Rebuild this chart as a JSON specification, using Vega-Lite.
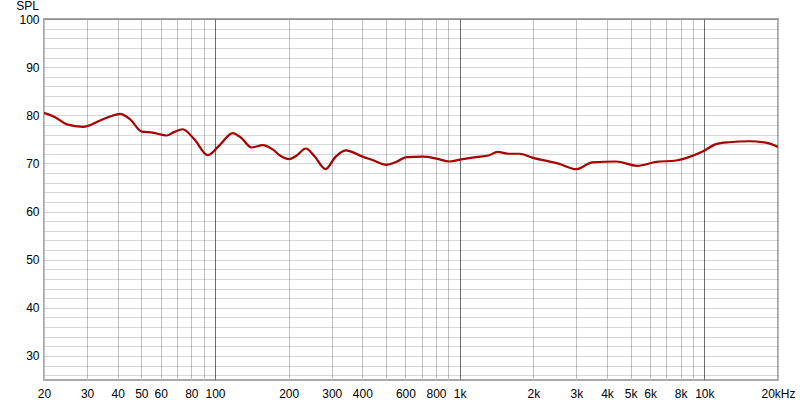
{
  "$schema": "https://vega.github.io/schema/vega-lite/v6.json",
  "width": 734,
  "height": 361,
  "autosize": "none",
  "padding": {"left": 44, "top": 19, "right": 22, "bottom": 25},
  "background": "white",
  "config": {
    "view": {"stroke": "#a8a8a8", "strokeWidth": 2},
    "font": "Liberation Sans",
    "axis": {"labelFont": "Liberation Sans", "labelFontSize": 12, "labelColor": "#000000", "titleFont": "Liberation Sans"}
  },
  "data": {
    "values": [
      {"f": 20, "spl": 80.5}, {"f": 22.2, "spl": 79.6}, {"f": 24.8, "spl": 78.1},
      {"f": 28.9, "spl": 77.6}, {"f": 33.9, "spl": 78.9}, {"f": 37.5, "spl": 79.8},
      {"f": 40.9, "spl": 80.3}, {"f": 44.9, "spl": 79.2}, {"f": 50.2, "spl": 76.6},
      {"f": 55.7, "spl": 76.4}, {"f": 63.5, "spl": 75.8}, {"f": 68, "spl": 76.5},
      {"f": 73.8, "spl": 77.1}, {"f": 82.6, "spl": 74.9}, {"f": 93.4, "spl": 71.7},
      {"f": 104.5, "spl": 73.8}, {"f": 118, "spl": 76.3}, {"f": 128, "spl": 75.3},
      {"f": 141, "spl": 73.3}, {"f": 157, "spl": 73.8}, {"f": 172, "spl": 72.9},
      {"f": 185, "spl": 71.6}, {"f": 202, "spl": 70.9}, {"f": 215, "spl": 71.6},
      {"f": 235, "spl": 73.1}, {"f": 255, "spl": 71.5}, {"f": 283, "spl": 68.8},
      {"f": 310, "spl": 71.3}, {"f": 342, "spl": 72.7}, {"f": 401, "spl": 71.4},
      {"f": 440, "spl": 70.7}, {"f": 502, "spl": 69.7}, {"f": 550, "spl": 70.3},
      {"f": 607, "spl": 71.3}, {"f": 705, "spl": 71.4}, {"f": 804, "spl": 71.0},
      {"f": 908, "spl": 70.4}, {"f": 1026, "spl": 70.9}, {"f": 1170, "spl": 71.3},
      {"f": 1322, "spl": 71.7}, {"f": 1426, "spl": 72.4}, {"f": 1596, "spl": 72.0},
      {"f": 1754, "spl": 72.0}, {"f": 1982, "spl": 71.2}, {"f": 2553, "spl": 69.9},
      {"f": 2998, "spl": 68.8}, {"f": 3484, "spl": 70.2}, {"f": 4365, "spl": 70.4},
      {"f": 5312, "spl": 69.5}, {"f": 6355, "spl": 70.3}, {"f": 7670, "spl": 70.6},
      {"f": 8418, "spl": 71.1}, {"f": 9790, "spl": 72.4}, {"f": 11170, "spl": 74.0},
      {"f": 12620, "spl": 74.4}, {"f": 15240, "spl": 74.6}, {"f": 17860, "spl": 74.3},
      {"f": 19630, "spl": 73.6}, {"f": 20000, "spl": 73.4}
    ]
  },
  "mark": {"type": "line", "color": "#a80000", "strokeWidth": 2.2, "interpolate": "monotone", "clip": true},
  "encoding": {
    "x": {
      "field": "f", "type": "quantitative",
      "scale": {"type": "log", "domain": [20, 20000], "nice": false},
      "axis": {
        "title": null,
        "values": [20, 30, 40, 50, 60, 70, 80, 90, 100, 200, 300, 400, 500, 600, 700, 800, 900, 1000, 2000, 3000, 4000, 5000, 6000, 7000, 8000, 9000, 10000, 20000],
        "labelExpr": "datum.value == 70 || datum.value == 90 || datum.value == 500 || datum.value == 700 || datum.value == 900 || datum.value == 7000 || datum.value == 9000 ? '' : datum.value == 20000 ? '20kHz' : datum.value >= 1000 ? (datum.value / 1000) + 'k' : '' + datum.value",
        "labelPadding": 8,
        "labelFlush": false,
        "labelOverlap": false,
        "ticks": false,
        "domain": false,
        "grid": true,
        "gridColor": {"condition": {"test": "datum.value == 100 || datum.value == 1000 || datum.value == 10000", "value": "#6e6e6e"}, "value": "#c0c0c0"},
        "gridWidth": 1
      }
    },
    "y": {
      "field": "spl", "type": "quantitative",
      "scale": {"domain": [25, 100], "nice": false, "zero": false},
      "axis": {
        "title": "SPL",
        "titleAngle": 0,
        "titleAlign": "center",
        "titleBaseline": "alphabetic",
        "titleX": -17,
        "titleY": -10,
        "titleFontSize": 12,
        "titleFontWeight": "normal",
        "titleColor": "#000000",
        "values": [26, 28, 30, 32, 34, 36, 38, 40, 42, 44, 46, 48, 50, 52, 54, 56, 58, 60, 62, 64, 66, 68, 70, 72, 74, 76, 78, 80, 82, 84, 86, 88, 90, 92, 94, 96, 98, 100],
        "labelExpr": "datum.value % 10 == 0 ? datum.label : ''",
        "labelPadding": 5,
        "labelOverlap": false,
        "labelFontSize": 12,
        "ticks": false,
        "domain": false,
        "grid": true,
        "gridColor": "#000000",
        "gridOpacity": 0.16,
        "gridWidth": 1
      }
    }
  }
}
